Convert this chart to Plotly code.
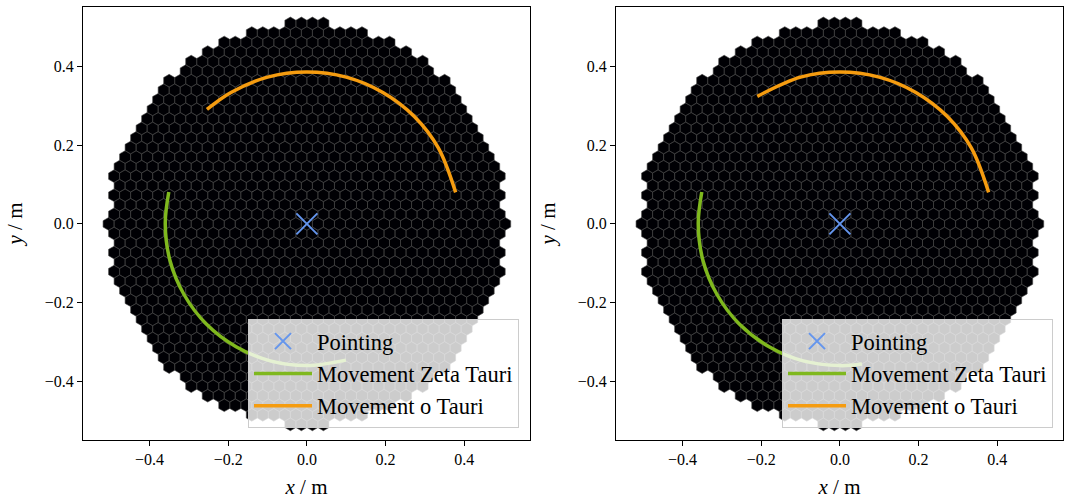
import numpy as np
import plotly.graph_objects as go

# ---- data ----
pointing_x = [0.0]
pointing_y = [0.0]

# left panel trajectories
zeta_x_left = [-0.351, -0.360, -0.348, -0.312, -0.255, -0.180, -0.093, 0.000, 0.099]
zeta_y_left = [0.081, 0.000, -0.093, -0.180, -0.255, -0.312, -0.348, -0.360, -0.346]
otau_x_left = [-0.254, -0.193, -0.100, 0.000, 0.100, 0.193, 0.273, 0.334, 0.378]
otau_y_left = [0.291, 0.334, 0.373, 0.386, 0.373, 0.334, 0.273, 0.193, 0.080]

# right panel trajectories
zeta_x_right = [-0.351, -0.360, -0.348, -0.312, -0.255, -0.180, -0.093, 0.000, 0.056]
zeta_y_right = [0.081, 0.000, -0.093, -0.180, -0.255, -0.312, -0.348, -0.360, -0.356]
otau_x_right = [-0.210, -0.100, 0.000, 0.100, 0.193, 0.273, 0.334, 0.378]
otau_y_right = [0.324, 0.373, 0.386, 0.373, 0.334, 0.273, 0.193, 0.080]

tick_vals = [-0.4, -0.2, 0.0, 0.2, 0.4]

# ---- camera geometry (hexagonal pixel grid, roughly circular outline) ----
PIX_SPACING = 0.028
CAM_RX = 0.505
CAM_RY = 0.512


def camera_polygons():
    d = PIX_SPACING
    r = d / np.sqrt(3)
    dy = d * np.sqrt(3) / 2
    n = int(CAM_RY / dy) + 2
    angles = np.deg2rad([30, 90, 150, 210, 270, 330, 30])
    xs, ys = [], []
    for j in range(-n, n + 1):
        yc = j * dy
        off = (d / 2) if (j % 2) else 0.0
        for i in range(-n - 2, n + 3):
            xc = i * d + off
            if (xc / CAM_RX) ** 2 + (yc / CAM_RY) ** 2 <= 1.0:
                xs.extend(list(xc + r * np.cos(angles)) + [None])
                ys.extend(list(yc + r * np.sin(angles)) + [None])
    return xs, ys


hex_x, hex_y = camera_polygons()

FONT = "Liberation Serif"
GREEN = "#7fb81e"
ORANGE = "#f59c10"
BLUE = "#6495ED"

fig = go.Figure()

panels = [
    ("x", "y", "legend", zeta_x_left, zeta_y_left, otau_x_left, otau_y_left),
    ("x2", "y2", "legend2", zeta_x_right, zeta_y_right, otau_x_right, otau_y_right),
]

for xa, ya, leg, zx, zy, ox, oy in panels:
    fig.add_trace(go.Scatter(
        x=hex_x, y=hex_y, xaxis=xa, yaxis=ya, mode="lines",
        fill="toself", fillcolor="#000004",
        line=dict(color="#484848", width=0.6),
        hoverinfo="skip", showlegend=False, legend=leg,
    ))
    fig.add_trace(go.Scatter(
        x=zx, y=zy, xaxis=xa, yaxis=ya, mode="lines",
        line=dict(color=GREEN, width=3.5, shape="spline"),
        name="Movement Zeta Tauri", legend=leg, legendrank=2,
    ))
    fig.add_trace(go.Scatter(
        x=ox, y=oy, xaxis=xa, yaxis=ya, mode="lines",
        line=dict(color=ORANGE, width=3.5, shape="spline"),
        name="Movement o Tauri", legend=leg, legendrank=3,
    ))
    fig.add_trace(go.Scatter(
        x=pointing_x, y=pointing_y, xaxis=xa, yaxis=ya, mode="markers",
        marker=dict(symbol="x-thin", size=21, color=BLUE,
                    line=dict(color=BLUE, width=2)),
        name="Pointing", legend=leg, legendrank=1,
    ))

W, H = 1072, 500
xdom_left = [83 / W, 530 / W]
xdom_right = [616 / W, 1063 / W]
ydom = [1 - 440 / H, 1 - 7 / H]

XR = [-0.569, 0.567]
YR = [-0.549, 0.551]

axis_common = dict(
    showgrid=False, zeroline=False, showline=True, linecolor="black",
    linewidth=1.2, mirror=True, ticks="outside", ticklen=5, tickwidth=1.2,
    tickcolor="black", tickvals=tick_vals, tickformat=".1f",
    tickfont=dict(family=FONT, size=16, color="black"),
)

title_font = dict(family=FONT, size=21, color="black")

legend_common = dict(
    xanchor="right", yanchor="bottom",
    bgcolor="rgba(255,255,255,0.8)", bordercolor="#cccccc", borderwidth=1,
    font=dict(family=FONT, size=22.5, color="black"), itemwidth=58,
    tracegroupgap=0,
)

fig.update_layout(
    width=W, height=H,
    margin=dict(l=0, r=0, t=0, b=0),
    paper_bgcolor="white", plot_bgcolor="white",
    xaxis=dict(domain=xdom_left, range=XR, anchor="y",
               title=dict(text="<i>x</i> / m", font=title_font, standoff=12),
               **axis_common),
    yaxis=dict(domain=ydom, range=YR, anchor="x",
               title=dict(text="<i>y</i> / m", font=title_font, standoff=16),
               **axis_common),
    xaxis2=dict(domain=xdom_right, range=XR, anchor="y2",
                title=dict(text="<i>x</i> / m", font=title_font, standoff=12),
                **axis_common),
    yaxis2=dict(domain=ydom, range=YR, anchor="x2",
                title=dict(text="<i>y</i> / m", font=title_font, standoff=16),
                **axis_common),
    legend=dict(x=519 / W, y=1 - 428 / H, **legend_common),
    legend2=dict(x=1053 / W, y=1 - 428 / H, **legend_common),
)

fig.write_html("out.html")
